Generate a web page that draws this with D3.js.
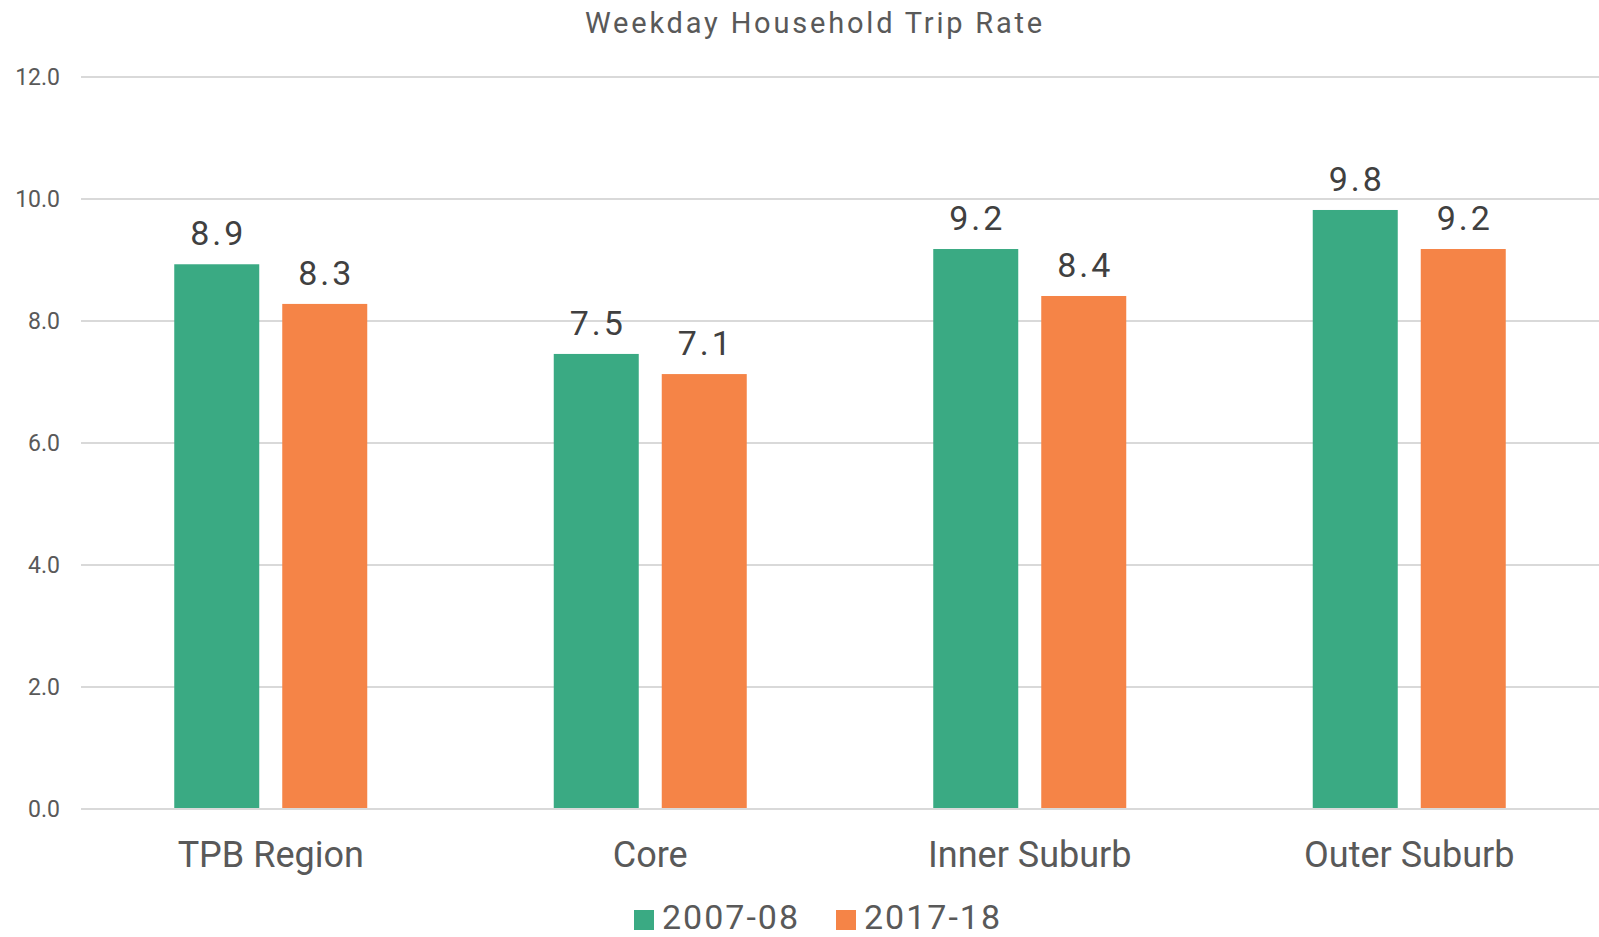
<!DOCTYPE html>
<html><head><meta charset="utf-8">
<script src="https://cdn.jsdelivr.net/npm/d3@7"></script>
<style>body{margin:0;background:#fff}svg{display:block}</style>
</head><body>
<svg id="c" width="1599" height="937"></svg>
<script>
const categories = ["TPB Region", "Core", "Inner Suburb", "Outer Suburb"];
const seriesNames = ["2007-08", "2017-18"];
const values2007 = [8.93, 7.46, 9.18, 9.82];
const values2017 = [8.28, 7.13, 8.41, 9.18];
const yTicks = [0, 2, 4, 6, 8, 10, 12];
const colors = ["#3aaa83", "#f58447"];
const title = "Weekday Household Trip Rate";

const font = "Roboto, 'Liberation Sans', sans-serif";
const svg = d3.select("#c");
const m = {left: 81, right: 1599, top: 77, bottom: 809};
const y = d3.scaleLinear().domain([0, 12]).range([m.bottom, m.top]);
const x = d3.scaleBand().domain(categories).range([m.left, m.right]);
const inner = d3.scaleBand().domain(seriesNames).range([0, 193]).paddingInner(23 / 108);

const series = [values2007, values2017];

// gridlines
svg.append("g").selectAll("line").data(yTicks).join("line")
  .attr("x1", m.left).attr("x2", m.right)
  .attr("y1", d => y(d)).attr("y2", d => y(d))
  .attr("stroke", "#d9d9d9").attr("stroke-width", 2);

// y labels
svg.append("g").selectAll("text").data(yTicks).join("text")
  .attr("x", 60).attr("y", d => y(d) + 8)
  .attr("text-anchor", "end").attr("font-family", font).attr("font-size", 23)
  .attr("fill", "#595959").text(d => d.toFixed(1));

// bars
const g = svg.append("g");
categories.forEach((c, i) => {
  const x0 = x(c) + x.bandwidth() / 2 - 96.5;
  seriesNames.forEach((s, j) => {
    const v = series[j][i];
    g.append("rect")
      .attr("x", x0 + inner(s)).attr("width", inner.bandwidth())
      .attr("y", y(v)).attr("height", y(0) - y(v))
      .attr("fill", colors[j]);
    g.append("text")
      .attr("x", x0 + inner(s) + inner.bandwidth() / 2 + 1.5)
      .attr("y", y(v) - 19)
      .attr("text-anchor", "middle").attr("font-family", font).attr("font-size", 34)
      .attr("letter-spacing", 3)
      .attr("fill", "#404040").text(d3.format(".1f")(v));
  });
});
// redraw baseline on top
svg.append("line").attr("x1", m.left).attr("x2", m.right)
  .attr("y1", y(0)).attr("y2", y(0)).attr("stroke", "#d9d9d9").attr("stroke-width", 2);

// category labels
svg.append("g").selectAll("text").data(categories).join("text")
  .attr("x", d => x(d) + x.bandwidth() / 2).attr("y", 867)
  .attr("text-anchor", "middle").attr("font-family", font).attr("font-size", 36)
  .attr("fill", "#595959").text(d => d);

// title
svg.append("text").attr("x", 815).attr("y", 33).attr("text-anchor", "middle")
  .attr("font-family", font).attr("font-size", 29).attr("letter-spacing", 2.8)
  .attr("fill", "#595959").text(title);

// legend
const legX = [634, 836];
seriesNames.forEach((s, j) => {
  svg.append("rect").attr("x", legX[j]).attr("y", 910).attr("width", 20).attr("height", 20).attr("fill", colors[j]);
  svg.append("text").attr("x", legX[j] + 28).attr("y", 929)
    .attr("font-family", font).attr("font-size", 34).attr("letter-spacing", 2)
    .attr("fill", "#595959").text(s);
});
</script>
</body></html>
